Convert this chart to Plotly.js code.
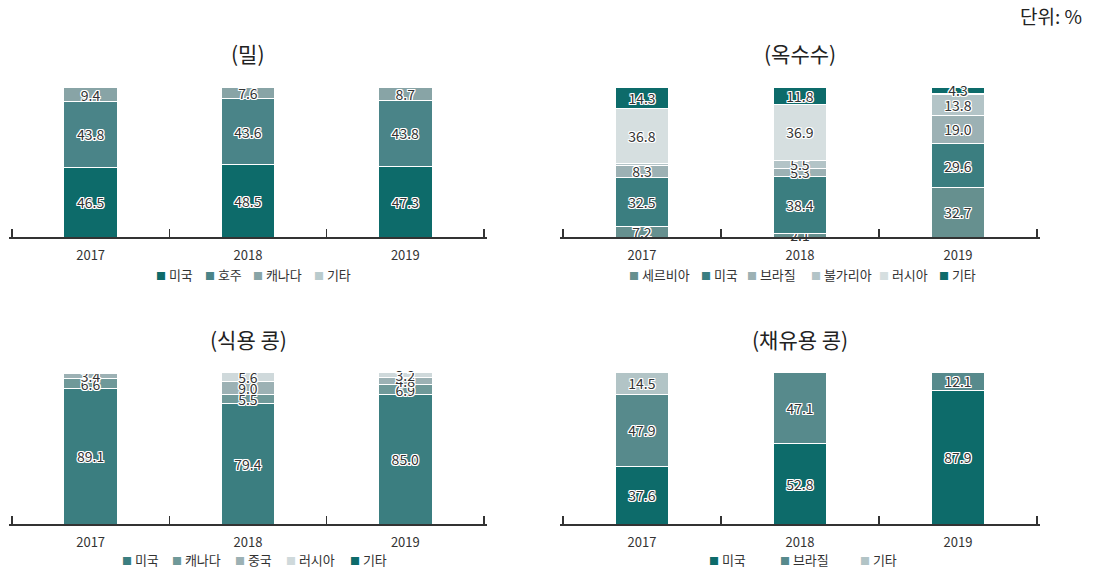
<!DOCTYPE html>
<html>
<head>
<meta charset="utf-8">
<script src="https://cdn.plot.ly/plotly-3.0.1.min.js"></script>
<style>
html,body{margin:0;padding:0;background:#fff;}
#chart{width:1100px;height:571px;}
</style>
</head>
<body>
<div id="chart"></div>
<script>
// ---- data ----
const years = ['2017', '2018', '2019'];

// (밀)
const wheatNames = ['미국', '호주', '캐나다', '기타'];
const wheatUS = [46.5, 48.5, 47.3];
const wheatAU = [43.8, 43.6, 43.8];
const wheatCA = [9.4, 7.6, 8.7];
const wheatEtc = [0.3, 0.3, 0.2];

// (옥수수)
const cornNames = ['세르비아', '미국', '브라질', '불가리아', '러시아', '기타'];
const cornRS = [7.2, 2.1, 32.7];
const cornUS = [32.5, 38.4, 29.6];
const cornBR = [8.3, 5.3, 19.0];
const cornBG = [0.9, 5.5, 13.8];
const cornRU = [36.8, 36.9, 0.6];
const cornEtc = [14.3, 11.8, 4.3];

// (식용 콩)
const foodNames = ['미국', '캐나다', '중국', '러시아', '기타'];
const foodUS = [89.1, 79.4, 85.0];
const foodCA = [6.6, 5.5, 6.9];
const foodCN = [3.4, 9.0, 4.8];
const foodRU = [0.5, 5.6, 3.2];
const foodEtc = [0.4, 0.5, 0.1];

// (채유용 콩)
const oilNames = ['미국', '브라질', '기타'];
const oilUS = [37.6, 52.8, 87.9];
const oilBR = [47.9, 47.1, 12.1];
const oilEtc = [14.5, 0.1, 0.0];

const panelTitles = ['(밀)', '(옥수수)', '(식용 콩)', '(채유용 콩)'];
const unitText = '단위: %';

// ---- styles ----
const FONT = 'Noto Sans CJK KR, Noto Sans, sans-serif';
const wheatColors = ['#0d6b6a', '#4a8488', '#88a4a6', '#b9cbcd'];
const cornColors = ['#66908f', '#3b7e80', '#9cb1b4', '#b3c4c7', '#d6dfe0', '#0d6b6a'];
const foodColors = ['#3b7e80', '#6f9999', '#9cb1b4', '#cfd9db', '#0d6b6a'];
const oilColors = ['#0d6b6a', '#578a8c', '#b2c4c6'];

// legend item left edges (px) per panel
const legendX = [
  [154, 203, 251, 312],
  [627, 699, 745, 809, 877, 937],
  [120, 170, 233, 284, 348],
  [707, 778, 858]
];
const legendY = [275, 275, 559, 559];

const halo = '1px 1px 0 #fff, -1px -1px 0 #fff, 1px -1px 0 #fff, -1px 1px 0 #fff, 0 1px 0 #fff, 0 -1px 0 #fff, 1px 0 0 #fff, -1px 0 0 #fff';

const W = 1100, H = 571;
const traces = [];
const annotations = [];
function addPanel(names, series, colors, ax, p) {
  series.forEach((vals, i) => {
    traces.push({
      type: 'bar',
      x: years,
      y: vals,
      name: names[i],
      xaxis: 'x' + ax, yaxis: 'y' + ax,
      marker: {color: colors[i], line: {color: '#ffffff', width: 1}},
      text: vals.map(v => (v >= 2 ? v.toFixed(1) : '')),
      textposition: 'inside',
      insidetextanchor: 'middle',
      textangle: 0,
      constraintext: 'none',
      cliponaxis: false,
      textfont: {family: FONT, size: 14, color: '#333333', shadow: halo},
      showlegend: false,
      hoverinfo: 'skip'
    });
    annotations.push({
      text: '<span style="font-size:10px;color:' + colors[i] + '">■</span> ' + names[i],
      xref: 'paper', yref: 'paper',
      x: legendX[p][i] / W, y: 1 - legendY[p] / H,
      xanchor: 'left', yanchor: 'middle', showarrow: false,
      font: {family: FONT, size: 13, color: '#333'}
    });
  });
}
addPanel(wheatNames, [wheatUS, wheatAU, wheatCA, wheatEtc], wheatColors, '', 0);
addPanel(cornNames, [cornRS, cornUS, cornBR, cornBG, cornRU, cornEtc], cornColors, '2', 1);
addPanel(foodNames, [foodUS, foodCA, foodCN, foodRU, foodEtc], foodColors, '3', 2);
addPanel(oilNames, [oilUS, oilBR, oilEtc], oilColors, '4', 3);

// axis: ticks at category boundaries; small padding so end ticks are kept
const PAD = 0.016;
function dom(a, b) {
  const per = (b - a) / 3;
  return [(a - PAD * per) / W, (b + PAD * per) / W];
}
const colL = dom(12, 484);
const colR = dom(563, 1037);
const rowT = [1 - 237 / H, 1 - 87 / H];
const rowB = [1 - 524 / H, 1 - 372 / H];

function xax(domain, anchor) {
  return {
    domain: domain, anchor: anchor, type: 'category',
    range: [-0.5 - PAD, 2.5 + PAD], fixedrange: true,
    tickson: 'boundaries', ticks: 'inside', ticklen: 8, tickwidth: 1.2, tickcolor: '#333',
    showline: true, linecolor: '#333', linewidth: 1.5,
    showgrid: false, zeroline: false,
    ticklabelstandoff: 6,
    tickfont: {family: FONT, size: 13, color: '#333'}
  };
}
function yax(domain, anchor) {
  return {domain: domain, anchor: anchor, range: [0, 100], visible: false, fixedrange: true};
}
const cxL = (12 + 484) / 2 / W, cxR = (563 + 1037) / 2 / W;
const titleFont = {family: FONT, size: 21, color: '#222'};
annotations.push(
  {text: panelTitles[0], xref: 'paper', yref: 'paper', x: cxL, y: 1 - 53 / H, xanchor: 'center', yanchor: 'middle', showarrow: false, font: titleFont},
  {text: panelTitles[1], xref: 'paper', yref: 'paper', x: cxR, y: 1 - 53 / H, xanchor: 'center', yanchor: 'middle', showarrow: false, font: titleFont},
  {text: panelTitles[2], xref: 'paper', yref: 'paper', x: cxL, y: 1 - 339 / H, xanchor: 'center', yanchor: 'middle', showarrow: false, font: titleFont},
  {text: panelTitles[3], xref: 'paper', yref: 'paper', x: cxR, y: 1 - 339 / H, xanchor: 'center', yanchor: 'middle', showarrow: false, font: titleFont},
  {text: unitText, xref: 'paper', yref: 'paper', x: 1084 / W, y: 1 - 15 / H, xanchor: 'right', yanchor: 'middle', showarrow: false, font: {family: FONT, size: 19, color: '#222'}}
);

const layout = {
  width: W, height: H,
  margin: {l: 0, r: 0, t: 0, b: 0},
  paper_bgcolor: '#ffffff', plot_bgcolor: '#ffffff',
  barmode: 'stack', bargap: 0.66,
  showlegend: false,
  xaxis: xax(colL, 'y'), yaxis: yax(rowT, 'x'),
  xaxis2: xax(colR, 'y2'), yaxis2: yax(rowT, 'x2'),
  xaxis3: xax(colL, 'y3'), yaxis3: yax(rowB, 'x3'),
  xaxis4: xax(colR, 'y4'), yaxis4: yax(rowB, 'x4'),
  annotations: annotations
};

Plotly.newPlot('chart', traces, layout, {displayModeBar: false, staticPlot: true});
</script>
</body>
</html>
